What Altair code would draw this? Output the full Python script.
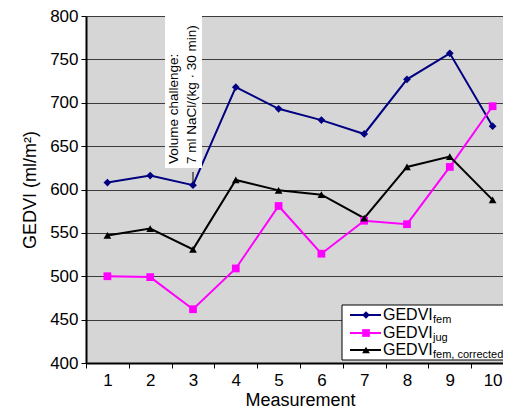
import altair as alt
import pandas as pd

measurements = list(range(1, 11))
gedvi_fem = [608, 616, 605, 718, 693, 680, 664, 727, 757, 673]
gedvi_jug = [500, 499, 462, 509, 581, 526, 564, 560, 626, 696]
gedvi_fem_corr = [547, 555, 531, 611, 599, 594, 567, 626, 638, 588]
series_keys = ["fem", "jug", "fem, corrected"]
series_colors = ["#000080", "#ff00ff", "#000000"]
series_shapes = ["diamond", "square", "triangle-up"]
y_ticks = list(range(400, 801, 50))
annotation_text = "Volume challenge:\n7 ml NaCl/(kg · 30 min)"

FONT = "Liberation Sans"

rows = []
for key, vals in zip(series_keys, [gedvi_fem, gedvi_jug, gedvi_fem_corr]):
    for m, v in zip(measurements, vals):
        rows.append({"m": m, "v": v, "s": key})
df = pd.DataFrame(rows)

x_enc = alt.X(
    "m:O",
    scale=alt.Scale(type="band", domain=measurements, paddingInner=0, paddingOuter=0),
    axis=alt.Axis(
        title="Measurement", labelAngle=0, tickBand="extent", grid=False,
        labelFontSize=17, labelPadding=4, titleFontSize=18, titlePadding=3,
    ),
)
y_enc = alt.Y(
    "v:Q",
    scale=alt.Scale(domain=[400, 800], nice=False, zero=False),
    axis=alt.Axis(
        values=y_ticks, title="GEDVI (ml/m²)", grid=True,
        labelFontSize=17, labelPadding=3, titleFontSize=18, titlePadding=10,
    ),
)
color_enc = alt.Color("s:N", scale=alt.Scale(domain=series_keys, range=series_colors), legend=None)
shape_enc = alt.Shape("s:N", scale=alt.Scale(domain=series_keys, range=series_shapes), legend=None)

base = alt.Chart(df)
lines = base.mark_line(strokeWidth=2).encode(x=x_enc, y=y_enc, color=color_enc, detail="s:N")
points = base.mark_point(filled=True, opacity=1, size=60).encode(
    x=x_enc, y=y_enc, color=color_enc, shape=shape_enc
)

one = pd.DataFrame({"a": [0]})
ann_box = alt.Chart(one).mark_rect(color="white").encode(
    x=alt.value(79), x2=alt.value(116), y=alt.value(0), y2=alt.value(152)
)
ann_text = alt.Chart(one).mark_text(
    angle=270, align="left", baseline="top", fontSize=13.5, lineHeight=18,
    font=FONT, color="black", lineBreak="\n",
).encode(x=alt.value(81), y=alt.value(148), text=alt.value(annotation_text))
ann_rule = alt.Chart(one).mark_rule(color="black", strokeWidth=1).encode(
    x=alt.value(107), y=alt.value(156), y2=alt.value(166)
)

legend_layers = [
    alt.Chart(one).mark_rect(fill="white", stroke="black", strokeWidth=1).encode(
        x=alt.value(256), x2=alt.value(418), y=alt.value(289), y2=alt.value(344)
    )
]
row_y = [299, 317, 334]
for key, col, shp, ry in zip(series_keys, series_colors, series_shapes, row_y):
    legend_layers.append(
        alt.Chart(one).mark_rule(color=col, strokeWidth=2).encode(
            x=alt.value(264), x2=alt.value(295), y=alt.value(ry)
        )
    )
    legend_layers.append(
        alt.Chart(one).mark_point(filled=True, opacity=1, size=60, color=col, shape=shp).encode(
            x=alt.value(280), y=alt.value(ry)
        )
    )
    legend_layers.append(
        alt.Chart(one).mark_text(
            align="left", baseline="alphabetic", fontSize=16, font=FONT, color="black"
        ).encode(x=alt.value(297), y=alt.value(ry + 5), text=alt.value("GEDVI"))
    )
    legend_layers.append(
        alt.Chart(one).mark_text(
            align="left", baseline="alphabetic", fontSize=11, font=FONT, color="black"
        ).encode(x=alt.value(347), y=alt.value(ry + 8), text=alt.value(key))
    )

chart = alt.layer(lines, points, ann_box, ann_text, ann_rule, *legend_layers).properties(
    width=428, height=347,
    autosize=alt.AutoSizeParams(type="none"),
    padding={"left": 78, "top": 8, "right": -11, "bottom": 46},
).configure(
    background="white"
).configure_view(
    fill="#d6d6d6", strokeWidth=0
).configure_axis(
    domainColor="black", domainWidth=2, tickColor="black", tickSize=5, tickWidth=1,
    labelColor="black", titleColor="black", labelFont=FONT, titleFont=FONT,
    titleFontWeight="normal", gridColor="#3c3c3c", gridWidth=1,
)

chart.save("out.html", embed_options={"renderer": "svg", "actions": False})
